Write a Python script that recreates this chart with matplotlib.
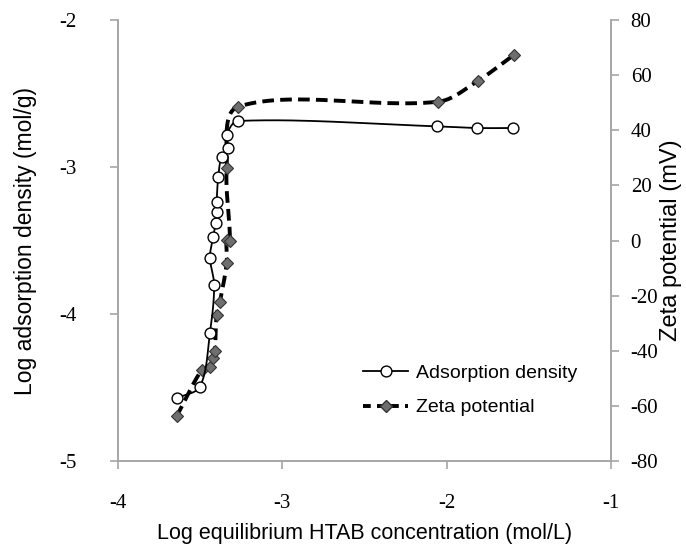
import numpy as np
import matplotlib
matplotlib.use('Agg')
import matplotlib.pyplot as plt
from matplotlib.lines import Line2D

plt.rcParams['axes.unicode_minus'] = False

# log equilibrium HTAB concentration vs log adsorption density
ads_x = [-3.644, -3.502, -3.441, -3.415, -3.441, -3.421, -3.406, -3.400, -3.400,
         -3.390, -3.370, -3.330, -3.339, -3.269, -2.061, -1.819, -1.600]
ads_y = [-4.574, -4.495, -4.131, -3.803, -3.621, -3.474, -3.383, -3.304, -3.236,
         -3.065, -2.929, -2.872, -2.781, -2.686, -2.722, -2.734, -2.734]

# log concentration vs zeta potential (mV)
zeta_x = [-3.644, -3.491, -3.441, -3.421, -3.411, -3.400, -3.380, -3.339, -3.339,
          -3.319, -3.339, -3.269, -2.053, -1.813, -1.592]
zeta_y = [-63.9, -47.0, -45.8, -42.7, -40.3, -27.0, -22.2, -8.2, 0.2,
          -0.1, 26.2, 48.6, 50.4, 57.9, 67.4]

xticks = [-4, -3, -2, -1]
yticks_left = [-5, -4, -3, -2]
yticks_right = [-80, -60, -40, -20, 0, 20, 40, 60, 80]


def smooth(ax, x, y, n=30):
    # excel-like smoothed line (bezier, chord weighted), in pixel space
    pts = ax.transData.transform(np.column_stack([x, y]))
    P = np.vstack([pts[0], pts, pts[-1]])
    t = np.linspace(0, 1, n)[:, None]
    segs = []
    for i in range(1, len(P) - 2):
        p0, p1, p2, p3 = P[i - 1], P[i], P[i + 1], P[i + 2]
        d01 = np.hypot(*(p1 - p0))
        d12 = np.hypot(*(p2 - p1))
        d23 = np.hypot(*(p3 - p2))
        f1 = d12 / (d01 + d12) if d01 + d12 > 0 else 0
        f2 = d12 / (d12 + d23) if d12 + d23 > 0 else 0
        c1 = p1 + (p2 - p0) * f1 / 3
        c2 = p2 - (p3 - p1) * f2 / 3
        segs.append((1 - t) ** 3 * p1 + 3 * (1 - t) ** 2 * t * c1
                    + 3 * (1 - t) * t ** 2 * c2 + t ** 3 * p2)
    c = ax.transData.inverted().transform(np.vstack(segs))
    return c[:, 0], c[:, 1]


serif = 'Liberation Serif'
sans = 'Liberation Sans'
gray = '#a6a6a6'
dash = (0, (3.0, 1.6))

fig = plt.figure(figsize=(6.86, 5.46), dpi=100)
ax = fig.add_axes([0.172, 0.156, 0.719, 0.807])
ax2 = ax.twinx()

ax.set_xlim(-4, -1)
ax.set_ylim(-5, -2)
ax2.set_ylim(-80, 80)

# zeta potential (dashed, diamonds)
sx, sy = smooth(ax2, zeta_x, zeta_y)
ax2.plot(sx, sy, color='black', lw=2.8, ls=dash, zorder=2)
ax2.plot(zeta_x, zeta_y, ls='none', marker='D', ms=6.5, mfc='#6e6e6e',
         mec='#333333', mew=0.8, zorder=3)

# adsorption density (solid, open circles)
sx, sy = smooth(ax, ads_x, ads_y)
ax.plot(sx, sy, color='black', lw=1.3, zorder=2)
ax.plot(ads_x, ads_y, ls='none', marker='o', ms=7.8, mfc='white',
        mec='black', mew=1.0, zorder=3)
ax.set_zorder(ax2.get_zorder() + 1)
ax.patch.set_visible(False)

for a in (ax, ax2):
    a.spines['top'].set_visible(False)
    for s in ('left', 'right', 'bottom'):
        a.spines[s].set_color(gray)
        a.spines[s].set_linewidth(1.2)

ax.set_xticks(xticks)
ax.set_yticks(yticks_left)
ax2.set_yticks(yticks_right)
ax.tick_params(axis='x', direction='out', length=6, width=1.2, color=gray,
               pad=18, labelsize=15)
ax.tick_params(axis='y', direction='out', length=6, width=1.2, color=gray,
               pad=24, labelsize=15)
ax2.tick_params(axis='y', direction='out', length=6, width=1.2, color=gray,
                pad=8, labelsize=15)
for lab in ax.get_xticklabels() + ax.get_yticklabels() + ax2.get_yticklabels():
    lab.set_family(serif)

ax.set_xlabel('Log equilibrium HTAB concentration (mol/L)', family=sans,
              fontsize=15.5, labelpad=7)
ax.set_ylabel('Log adsorption density (mol/g)', family=sans, fontsize=16.5,
              labelpad=16)
ax2.set_ylabel('Zeta potential (mV)', family=sans, fontsize=17, labelpad=1)

handles = [
    Line2D([], [], color='black', lw=1.3, marker='o', ms=7.8, mfc='white',
           mec='black'),
    Line2D([], [], color='black', lw=2.8, ls=(0, (2.0, 1.6)), marker='D',
           ms=6.5, mfc='#6e6e6e', mec='#333333'),
]
ax.legend(handles, ['Adsorption density', 'Zeta potential'], loc='upper left',
          bbox_to_anchor=(0.462, 0.258), frameon=False, prop={'family': sans,
          'size': 14}, handlelength=2.3, labelspacing=0.85, handletextpad=0.4)

fig.savefig('out.png', dpi=100)
